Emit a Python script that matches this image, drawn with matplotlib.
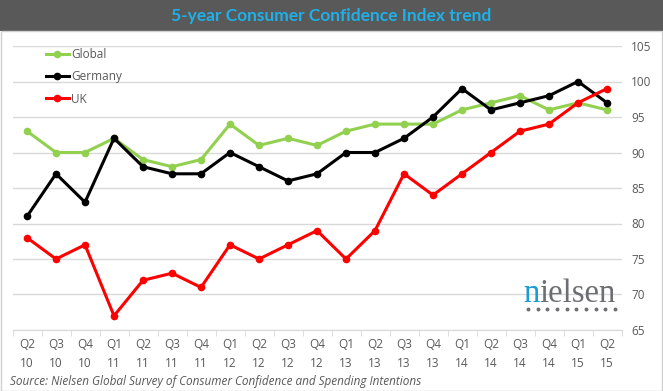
import numpy as np
import matplotlib
matplotlib.use("Agg")
import matplotlib.pyplot as plt
from matplotlib.patches import Rectangle
from matplotlib.lines import Line2D

# ------------------------------
# Data
# ------------------------------
quarters = ["Q2\n10", "Q3\n10", "Q4\n10", "Q1\n11", "Q2\n11", "Q3\n11", "Q4\n11",
            "Q1\n12", "Q2\n12", "Q3\n12", "Q4\n12", "Q1\n13", "Q2\n13", "Q3\n13",
            "Q4\n13", "Q1\n14", "Q2\n14", "Q3\n14", "Q4\n14", "Q1\n15", "Q2\n15"]
global_idx = [93, 90, 90, 92, 89, 88, 89, 94, 91, 92, 91, 93, 94, 94, 94, 96, 97, 98, 96, 97, 96]
germany_idx = [81, 87, 83, 92, 88, 87, 87, 90, 88, 86, 87, 90, 90, 92, 95, 99, 96, 97, 98, 100, 97]
uk_idx = [78, 75, 77, 67, 72, 73, 71, 77, 75, 77, 79, 75, 79, 87, 84, 87, 90, 93, 94, 97, 99]
y_ticks = [65, 70, 75, 80, 85, 90, 95, 100, 105]

plt.rcParams["font.family"] = ["Open Sans", "DejaVu Sans"]
txt_gray = "#595959"

W, H = 663, 391
fig = plt.figure(figsize=(W / 100, H / 100), dpi=100)

# title bar + frame
fig.add_artist(Rectangle((0, 1 - 31 / H), 1, 31 / H, transform=fig.transFigure,
                         facecolor="#595959", edgecolor="none"))
fig.add_artist(Rectangle((0.5 / W, 0.5 / H), 1 - 1.5 / W, 1 - 31 / H - 0.5 / H,
                         transform=fig.transFigure, facecolor="none",
                         edgecolor="#d0d0d0", lw=1))
fig.text(0.5, 1 - 16 / H, "5-year Consumer Confidence Index trend", ha="center",
         va="center", color="#1EB1E9", fontsize=12.5, fontweight="bold",
         family=["Lato", "DejaVu Sans"])

# ------------------------------
# Plot
# ------------------------------
ax = fig.add_axes([12.5 / W, (H - 330) / H, 609 / W, 284 / H])
x = np.arange(len(quarters))
ax.plot(x, global_idx, color="#92D050", lw=2.2, marker="o", ms=4.5, label="Global")
ax.plot(x, germany_idx, color="black", lw=2.2, marker="o", ms=4.5, label="Germany")
ax.plot(x, uk_idx, color="#FF0000", lw=2.2, marker="o", ms=4.5, label="UK")

ax.set_xlim(-0.5, len(quarters) - 0.5)
ax.set_ylim(65, 105)
ax.set_yticks(y_ticks)
ax.yaxis.tick_right()
ax.tick_params(axis="y", length=0, pad=7, labelsize=8.5, labelcolor=txt_gray)
ax.grid(axis="y", color="#d9d9d9", lw=1)
ax.set_axisbelow(True)

ax.set_xticks(x)
ax.set_xticklabels(quarters, linespacing=1.6)
ax.set_xticks(np.arange(-0.5, len(quarters), 1), minor=True)
ax.tick_params(axis="x", which="major", length=0, pad=6, labelsize=8.5, labelcolor=txt_gray)
ax.tick_params(axis="x", which="minor", length=4, color="#d9d9d9", direction="out")

for s in ["top", "left", "right"]:
    ax.spines[s].set_visible(False)
ax.spines["bottom"].set_color("#d9d9d9")

ax.legend(loc="upper left", bbox_to_anchor=(0.037, 1.03), frameon=False,
          fontsize=8.5, labelcolor=txt_gray, handlelength=2.0, handletextpad=0.15,
          labelspacing=0.78)

# source note
fig.text(10 / W, 1 - 382 / H, "Source: Nielsen Global Survey of Consumer Confidence and Spending Intentions",
         ha="left", va="center", style="italic", fontsize=8.5, color=txt_gray)

# nielsen logo: blue "n" followed by gray "ielsen"
t_n = fig.text(523 / W, 1 - 302 / H, "n", ha="left", va="baseline", color="#1A9AD6",
               fontsize=23.5, family="Liberation Serif")
ax.annotate("ielsen", xy=(1, 0), xycoords=t_n, xytext=(0.3, 0), textcoords="offset points",
            ha="left", va="bottom", color="#6D6E71", fontsize=23.5,
            family="Liberation Serif", annotation_clip=False)
fig.add_artist(Line2D(np.linspace(528 / W, 615 / W, 10), [1 - 309 / H] * 10,
                      transform=fig.transFigure, ls="none", marker="o", ms=1.8,
                      color="#6D6E71"))

fig.savefig("out.png", dpi=100)
